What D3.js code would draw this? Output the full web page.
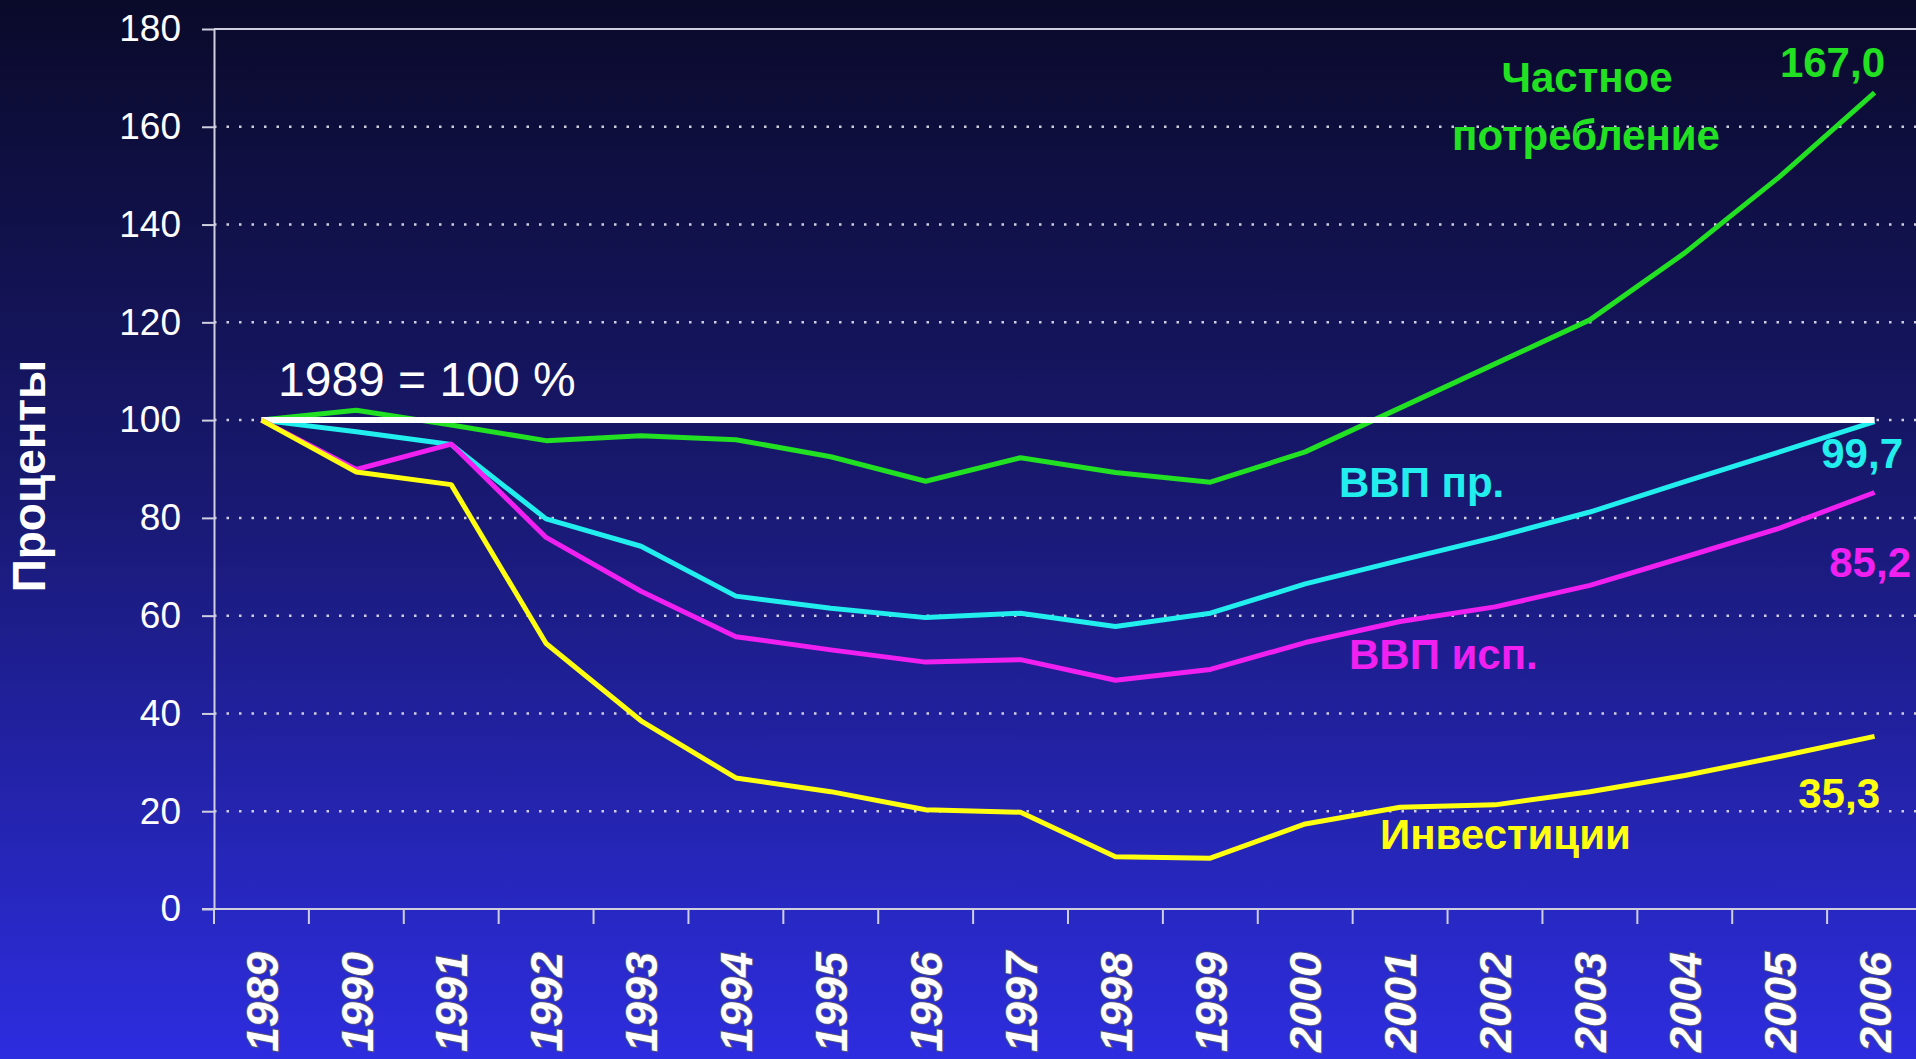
<!DOCTYPE html>
<html>
<head>
<meta charset="utf-8">
<script src="https://cdn.jsdelivr.net/npm/d3@7"></script>
<style>
  html, body { margin: 0; padding: 0; overflow: hidden; background: #0a0a2a; }
  text { font-family: "Liberation Sans", Arial, sans-serif; }
</style>
</head>
<body>
<div id="chart"></div>
<script>
var years = ["1989","1990","1991","1992","1993","1994","1995","1996","1997","1998","1999","2000","2001","2002","2003","2004","2005","2006"];
var yTicks = [0, 20, 40, 60, 80, 100, 120, 140, 160, 180];

// 1989 = 100
var privateCons = [100, 102, 99, 95.8, 96.8, 96, 92.5, 87.5, 92.3, 89.3, 87.3, 93.5, 102.5, 111.5, 120.5, 134.2, 149.8, 167.0];
var gdpProd     = [100, 97.6, 95, 79.8, 74.2, 64, 61.5, 59.6, 60.5, 57.8, 60.5, 66.5, 71.3, 76, 81.2, 87.4, 93.5, 99.7];
var gdpExp      = [100, 89.9, 95.1, 76, 65, 55.7, 53, 50.5, 51, 46.8, 49, 54.5, 58.8, 61.8, 66.2, 72, 77.9, 85.2];
var invest      = [100, 89.4, 86.8, 54.3, 38.5, 26.8, 24, 20.3, 19.8, 10.7, 10.4, 17.4, 20.8, 21.3, 24, 27.3, 31.2, 35.3];
var baseValue = 100;

var width = 1916,
    height = 1059;

var svg = d3.select("#chart")
  .append("svg")
  .attr("width", width)
  .attr("height", height);

var grad = svg.append("defs").append("linearGradient")
  .attr("id", "bg")
  .attr("x1", 0).attr("y1", 0).attr("x2", 0).attr("y2", 1);
grad.append("stop").attr("offset", "0%").attr("stop-color", "#0a0a2a");
grad.append("stop").attr("offset", "45%").attr("stop-color", "#18186e");
grad.append("stop").attr("offset", "100%").attr("stop-color", "#2d2de0");

svg.append("rect")
  .attr("width", width)
  .attr("height", height)
  .attr("fill", "url(#bg)");

var x = d3.scaleBand()
  .domain(years)
  .range([214, 1922]);

var y = d3.scaleLinear()
  .domain([0, 180])
  .range([909, 29]);

function cx(d) { return x(d) + x.bandwidth() / 2; }

var axisColor = "#cfcfe0";

// grid lines
svg.append("g")
  .selectAll("line")
  .data(yTicks.filter(function(d) { return d > 0; }))
  .enter().append("line")
  .attr("x1", 214)
  .attr("x2", width)
  .attr("y1", function(d) { return y(d); })
  .attr("y2", function(d) { return y(d); })
  .attr("stroke", axisColor)
  .attr("stroke-width", function(d) { return d === 180 ? 2 : 2.5; })
  .attr("stroke-dasharray", function(d) { return d === 180 ? null : "2.5,10"; });

// y axis
var yAxis = svg.append("g")
  .attr("transform", "translate(214,0)")
  .call(d3.axisLeft(y).tickValues(yTicks).tickSize(12).tickSizeOuter(0).tickPadding(21));
yAxis.select(".domain").attr("stroke", axisColor).attr("stroke-width", 2);
yAxis.selectAll(".tick line").attr("stroke", axisColor).attr("stroke-width", 2);
yAxis.selectAll(".tick text")
  .attr("fill", "#ffffff")
  .style("font-size", "37px")
  .style("font-family", "'Liberation Sans', Arial, sans-serif");

// x axis
var xAxis = svg.append("g");
xAxis.append("line")
  .attr("x1", 202).attr("x2", width)
  .attr("y1", y(0)).attr("y2", y(0))
  .attr("stroke", axisColor)
  .attr("stroke-width", 2);
xAxis.selectAll("line.xtick")
  .data(years)
  .enter().append("line")
  .attr("class", "xtick")
  .attr("x1", function(d) { return x(d); })
  .attr("x2", function(d) { return x(d); })
  .attr("y1", y(0))
  .attr("y2", y(0) + 15)
  .attr("stroke", axisColor)
  .attr("stroke-width", 2);
xAxis.selectAll("text")
  .data(years)
  .enter().append("text")
  .attr("transform", function(d) { return "translate(" + cx(d) + ",952) rotate(-90)"; })
  .attr("text-anchor", "end")
  .attr("dy", "0.36em")
  .style("font-size", "45px")
  .style("font-weight", "bold")
  .style("font-style", "italic")
  .attr("fill", "#ffffff")
  .attr("stroke", "#55557a")
  .attr("stroke-width", 2)
  .attr("paint-order", "stroke")
  .text(function(d) { return d; });

// y title
svg.append("text")
  .attr("transform", "translate(45,476) rotate(-90)")
  .attr("text-anchor", "middle")
  .style("font-size", "46px")
  .style("font-weight", "bold")
  .attr("fill", "#ffffff")
  .text("Проценты");

var line = d3.line()
  .x(function(d, i) { return cx(years[i]); })
  .y(function(d) { return y(d); });

function drawSeries(values, color) {
  svg.append("path")
    .datum(values)
    .attr("d", line)
    .attr("fill", "none")
    .attr("stroke", color)
    .attr("stroke-width", 5)
    .attr("stroke-linejoin", "round");
}

drawSeries(privateCons, "#22e022");
drawSeries(gdpProd, "#22eeee");

// base line 1989 = 100
svg.append("line")
  .attr("x1", cx(years[0]))
  .attr("x2", cx(years[years.length - 1]))
  .attr("y1", y(baseValue))
  .attr("y2", y(baseValue))
  .attr("stroke", "#ffffff")
  .attr("stroke-width", 6);

drawSeries(gdpExp, "#f020f0");
drawSeries(invest, "#ffff10");

svg.append("text")
  .attr("x", 278)
  .attr("y", 396)
  .style("font-size", "48px")
  .attr("fill", "#ffffff")
  .text("1989 = 100 %");

function label(txt, xx, yy, color, anchor) {
  svg.append("text")
    .attr("x", xx)
    .attr("y", yy)
    .attr("text-anchor", anchor)
    .style("font-size", "42px")
    .style("font-weight", "bold")
    .attr("fill", color)
    .text(txt);
}

label("Частное", 1587, 92, "#22e022", "middle");
label("потребление", 1586, 150, "#22e022", "middle");
label("167,0", 1885, 77, "#22e022", "end");
label("ВВП пр.", 1339, 497, "#22eeee", "start");
label("99,7", 1903, 468, "#22eeee", "end");
label("85,2", 1911, 577, "#f020f0", "end");
label("ВВП исп.", 1349, 669, "#f020f0", "start");
label("35,3", 1880, 808, "#ffff10", "end");
label("Инвестиции", 1380, 849, "#ffff10", "start");
</script>
</body>
</html>
